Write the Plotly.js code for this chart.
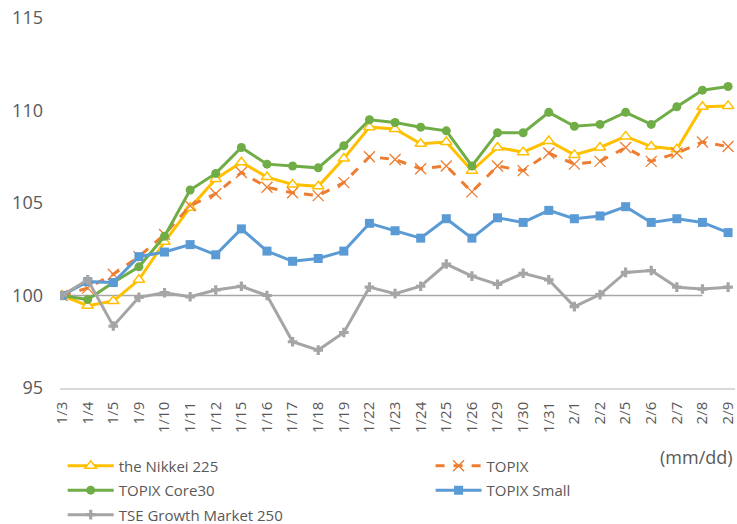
<!DOCTYPE html>
<html><head><meta charset="utf-8">
<script src="https://cdn.plot.ly/plotly-3.0.1.min.js"></script>
<style>html,body{margin:0;padding:0;background:#fff;}#chart{width:737px;height:524px;}</style>
</head><body><div id="chart"></div>
<script>
const dates = ["1/3","1/4","1/5","1/9","1/10","1/11","1/12","1/15","1/16","1/17","1/18","1/19","1/22","1/23","1/24","1/25","1/26","1/29","1/30","1/31","2/1","2/2","2/5","2/6","2/7","2/8","2/9"];
const nikkei = [100,99.45,99.7,100.85,102.9,104.75,106.3,107.2,106.4,106.0,105.9,107.4,109.1,109.0,108.2,108.3,106.75,108.0,107.75,108.35,107.6,108.0,108.6,108.05,107.9,110.2,110.25];
const topix = [100,100.4,101.15,102.1,103.3,104.85,105.5,106.65,105.85,105.55,105.4,106.1,107.5,107.35,106.85,107.0,105.6,107.0,106.75,107.7,107.1,107.25,108.0,107.25,107.7,108.3,108.05];
const core30 = [100,99.78,100.7,101.55,103.2,105.7,106.6,108.0,107.1,107.0,106.9,108.1,109.5,109.35,109.1,108.9,107.0,108.8,108.8,109.9,109.15,109.25,109.9,109.25,110.2,111.1,111.3];
const small = [100,100.75,100.7,102.1,102.35,102.75,102.2,103.6,102.4,101.85,102.0,102.4,103.9,103.5,103.1,104.15,103.1,104.2,103.95,104.6,104.15,104.3,104.8,103.95,104.15,103.95,103.4];
const growth = [100,100.85,98.35,99.9,100.15,99.93,100.3,100.5,100.0,97.5,97.05,98.0,100.45,100.1,100.5,101.7,101.05,100.6,101.2,100.85,99.4,100.05,101.25,101.35,100.45,100.35,100.45];
const baseValue = 100;
const baseEnd = "2/8";

const traces = [
  {name:"the Nikkei 225", x:dates, y:nikkei, mode:"lines+markers", legend:"legend", legendgroup:"a",
   line:{color:"#FFC000", width:3},
   marker:{symbol:"triangle-up", size:10, color:"#ffffff", line:{color:"#FFC000", width:1.5}}},
  {name:"TOPIX", x:dates, y:topix, mode:"lines+markers", legend:"legend2", legendgroup:"b",
   line:{color:"#ED7D31", width:3, dash:"dash"},
   marker:{symbol:"x-thin-open", size:11, color:"#ED7D31", line:{color:"#ED7D31", width:1.3}}},
  {name:"TOPIX Core30", x:dates, y:core30, mode:"lines+markers", legend:"legend", legendgroup:"c",
   line:{color:"#70AD47", width:3},
   marker:{symbol:"circle", size:9, color:"#70AD47"}},
  {name:"TOPIX Small", x:dates, y:small, mode:"lines+markers", legend:"legend2", legendgroup:"d",
   line:{color:"#5B9BD5", width:3},
   marker:{symbol:"square", size:9, color:"#5B9BD5"}},
  {name:"TSE Growth Market 250", x:dates, y:growth, mode:"lines+markers", legend:"legend", legendgroup:"e",
   line:{color:"#A5A5A5", width:3},
   marker:{symbol:"cross", size:8, color:"#A5A5A5"}}
];

const legendCommon = {orientation:"v", yanchor:"top", xanchor:"left", font:{size:15, color:"#595959"},
  tracegroupgap:2, itemwidth:46, traceorder:"grouped", bgcolor:"rgba(0,0,0,0)"};

const layout = {
  width:737, height:524,
  margin:{l:60, r:2, t:18, b:136, autoexpand:false},
  paper_bgcolor:"#ffffff", plot_bgcolor:"#ffffff",
  font:{family:"Open Sans, sans-serif", color:"#595959", size:13},
  showlegend:true,
  xaxis:{type:"category", range:[-0.08, 26.27], showgrid:false, zeroline:false,
         showline:true, linecolor:"#D9D9D9", linewidth:1.5, ticks:"",
         tickangle:-90, tickfont:{size:15, color:"#595959"}, ticklabelstandoff:6, automargin:false},
  yaxis:{range:[95,115], dtick:5, tick0:95, showgrid:false, zeroline:false,
         showline:false, ticks:"", tickfont:{size:18, color:"#595959"}, ticklabelstandoff:16, automargin:false},
  shapes:[{type:"line", xref:"x", yref:"y", x0:dates[0], x1:baseEnd, y0:baseValue, y1:baseValue,
           line:{color:"#A6A6A6", width:1.5}, layer:"below"}],
  legend:Object.assign({}, legendCommon, {x:0.004, y:-0.166}),
  legend2:Object.assign({}, legendCommon, {x:0.549, y:-0.166}),
  annotations:[{text:"(mm/dd)", xref:"paper", yref:"paper", x:1.0, y:-0.15, xanchor:"right", yanchor:"top",
                showarrow:false, font:{size:18, color:"#595959"}}]
};
Plotly.newPlot("chart", traces, layout, {displayModeBar:false});
</script></body></html>
